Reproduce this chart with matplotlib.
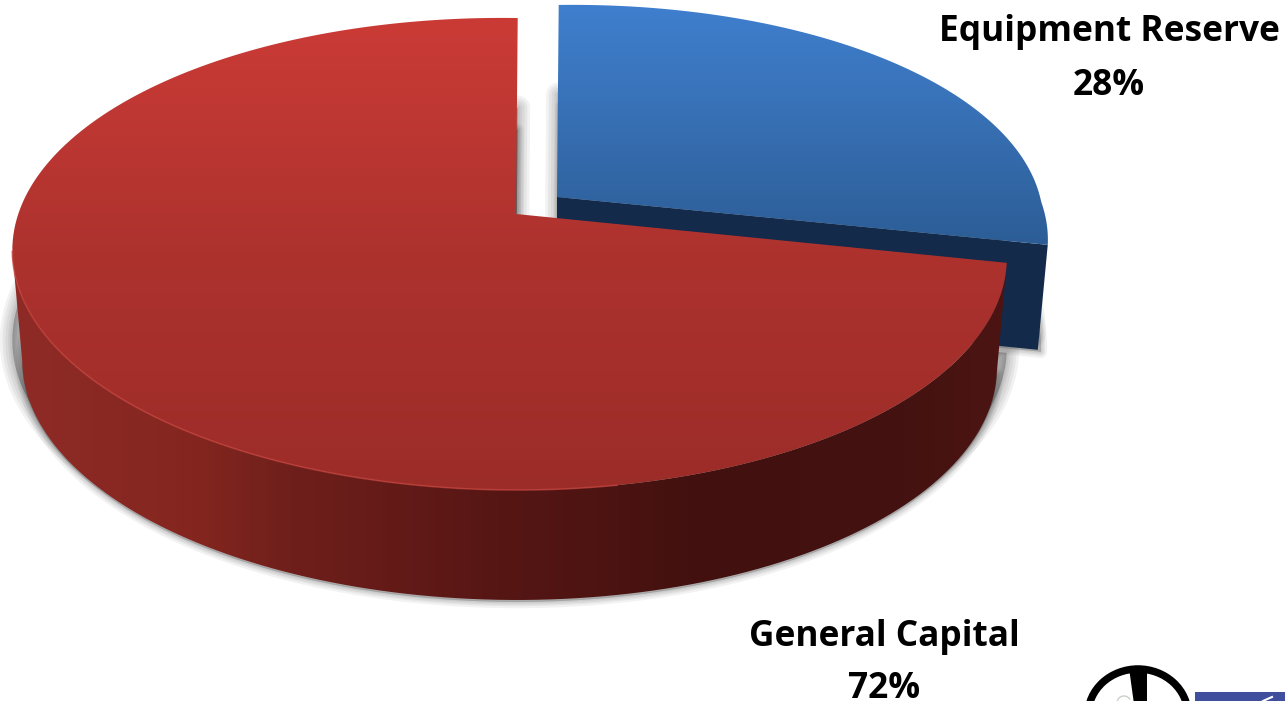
"""3D style pie of the capital split, drawn by hand on a pixel sized axes"""
import numpy as np
import matplotlib
matplotlib.use("Agg")
import matplotlib.pyplot as plt
from matplotlib.colors import LinearSegmentedColormap
from matplotlib.patches import Polygon, Rectangle, Arc

labels = ["General Capital", "Equipment Reserve"]
shares = [72, 28]

# gradient stops
red_top = ["#cb3b36", "#ad322e", "#9c2c28"]
red_wall = [(0, "#8f2b27"), (0.18, "#84261f"), (0.28, "#6f1f1b"), (0.38, "#641b18"), (0.49, "#561614"),
            (0.59, "#4d1412"), (0.69, "#42110f"), (0.9, "#441210"), (1, "#4c1513")]
blue_top = ["#3f7fce", "#376fb3", "#2c5d96"]
blue_wall = "#132a4a"

W, H = 1285, 701
EXPLODE = (41, -17)
DROP = 110
BLUE_DROP_TRIM = 6
SHRINK = 0.98
BLUE_BULGE = 0.035


def project(r, theta):
    """Disc coordinates to screen pixels, with a slight perspective."""
    x = r * np.cos(theta)
    y = r * np.sin(theta)
    w = 1 + 0.1695 * y + 0.012 * x
    return 516 + (490 * x + 2 * y) / w, 214 + (5 * x - 229.2 * y) / w


def lower(px, py):
    # same outline on the underside of the disc
    return 510 + (px - 510) * SHRINK, py + DROP


def sector(start, end, bulge=0.0):
    t = np.linspace(start, end, 200)
    r = 1.0 + bulge * np.clip(np.sin(2 * t), 0, None)
    px, py = project(r, t)
    ax_, ay_ = project(0.0, 0.0)
    return np.column_stack([np.r_[ax_, px], np.r_[ay_, py]])


def fill_gradient(ax, verts, colors, z, horizontal=False):
    cmap = LinearSegmentedColormap.from_list("g", colors)
    x0, x1 = verts[:, 0].min(), verts[:, 0].max()
    y0, y1 = verts[:, 1].min(), verts[:, 1].max()
    grad = np.linspace(0, 1, 256)
    grad = grad.reshape(1, -1) if horizontal else grad.reshape(-1, 1)
    im = ax.imshow(grad, cmap=cmap, extent=(x0, x1, y1, y0), aspect="auto",
                   interpolation="bilinear", zorder=z)
    patch = Polygon(verts, closed=True, transform=ax.transData, fc="none", ec="none")
    ax.add_patch(patch)
    im.set_clip_path(patch)


def soft_shadow(ax, verts, widths):
    # stacked strokes fake the blurred drop shadow
    for lw in widths:
        ax.add_patch(Polygon(verts, closed=True, fc="black", ec="black", lw=lw, alpha=0.05,
                             joinstyle="round", zorder=1))


fig = plt.figure(figsize=(W / 100, H / 100), dpi=100, facecolor="white")
ax = fig.add_axes([0, 0, 1, 1])

# slice angles come from the shares, red starts at twelve o'clock
red_start = np.pi / 2
red_end = red_start + 2 * np.pi * shares[0] / sum(shares)

red_verts = sector(red_start, red_end)
blue_verts = sector(red_end, red_start + 2 * np.pi, BLUE_BULGE)
blue_low = np.column_stack(lower(*blue_verts.T)) + EXPLODE + [0, -BLUE_DROP_TRIM]

# the blue lid is a touch flatter than the red one
blue_verts = blue_verts + EXPLODE
blue_verts[:, 1] = blue_verts[0, 1] + (blue_verts[:, 1] - blue_verts[0, 1]) * 0.98

# shadows behind the solids
wide = [18, 14, 10, 6, 3]
tight = [9, 6, 4, 2]
soft_shadow(ax, red_verts + [0, 90], wide)
inset = blue_verts.copy()
inset[:, 0] = inset[0, 0] + (inset[:, 0] - inset[0, 0]) * 0.97
soft_shadow(ax, inset + [0, 90], wide)
soft_shadow(ax, np.column_stack(lower(*red_verts.T)) + [0, 2], tight)
soft_shadow(ax, blue_low + [3, 2], tight)

# blue wedge: cut face first, then the lid
cut = np.array([blue_verts[0], blue_verts[1], blue_low[1], blue_low[0]])
ax.add_patch(Polygon(cut, closed=True, fc=blue_wall, ec="none", zorder=2))
fill_gradient(ax, blue_verts, blue_top, 3)

# red wall runs along the front rim from the left extreme to the cut
rim = red_verts[1:]
front = rim[np.argmin(rim[:, 0]):]
under_all = np.column_stack(lower(*rim.T))
under = under_all[np.argmin(under_all[:, 0]):]
wall = np.vstack([front, under[::-1]])
fill_gradient(ax, wall, red_wall, 4, horizontal=True)
fill_gradient(ax, red_verts, red_top, 5)

# lighter line along the left part of the lip
lip = front[front[:, 0] < 620]
ax.plot(lip[:, 0], lip[:, 1], color="#c4423c", lw=1.2, alpha=0.7, zorder=6)

# labels, placed on their baselines
font = dict(family="Open Sans", fontweight="bold", fontsize=25.4, color="black", ha="center", va="baseline")
ax.text(1109, 41, labels[1], **font)
ax.text(1109, 95, f"{shares[1]}%", **font)
ax.text(884, 646, labels[0], **font)
ax.text(884, 698, f"{shares[0]}%", **font)

# logo clipped by the lower edge
ax.add_patch(Arc((1138, 715), 100, 92, theta1=180, theta2=360, color="black", lw=5.4, zorder=7))
ax.add_patch(Polygon([(1129, 668), (1147, 668), (1147, 704), (1134, 704)], closed=True, fc="black", ec="none", zorder=7))
ax.add_patch(Arc((1124, 703), 14, 14, theta1=190, theta2=330, color="#c8d0c8", lw=1, zorder=7))
ax.add_patch(Rectangle((1195, 692), 95, 12, fc="#3f4f9e", ec="none", zorder=7))
ax.plot([1263, 1272], [701, 697], color="white", lw=1.5, zorder=8)

ax.set_xlim(0, W)
ax.set_ylim(H, 0)
ax.axis("off")
fig.savefig("out.png", dpi=100, facecolor="white")
